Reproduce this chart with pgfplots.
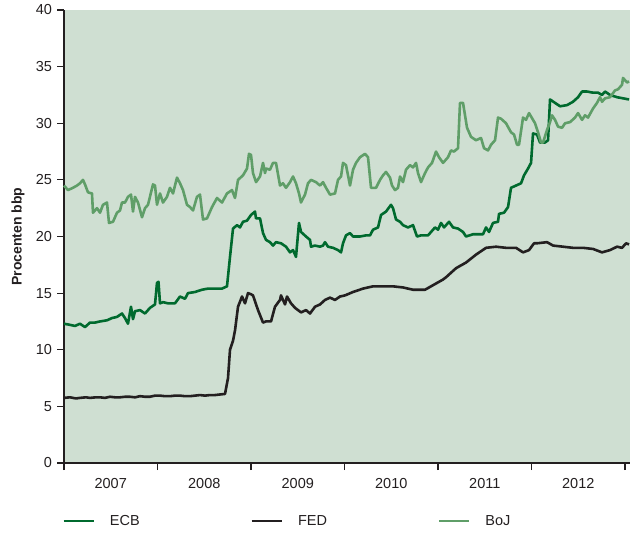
\documentclass[border=0pt]{standalone}
\usepackage{fontspec}
\setmainfont{Liberation Sans}
\usepackage{pgfplots}
\usepackage{pgfplotstable}
\pgfplotsset{compat=1.18}
\definecolor{bgc}{RGB}{207,223,210}
\definecolor{ecbc}{RGB}{0,106,46}
\definecolor{bojc}{RGB}{95,158,104}
\definecolor{fedc}{RGB}{35,31,32}
% x: horizontal position (pixel), y: percentage of GDP
\pgfplotstableread{
px v
64 5.75
70 5.8
76 5.7
80 5.75
86 5.8
90 5.75
96 5.8
100 5.8
105 5.75
110 5.85
115 5.8
120 5.8
125 5.85
130 5.85
135 5.8
140 5.9
145 5.85
150 5.85
155 5.95
160 5.95
165 5.9
170 5.9
175 5.95
180 5.95
185 5.9
190 5.9
195 5.95
200 6.0
205 5.95
210 6.0
215 6.0
220 6.05
225 6.1
228 7.5
230 10.0
233 10.8
235 11.7
238 13.8
242 14.7
245 14.1
248 15.0
251 14.9
253 14.8
258 13.5
263 12.4
266 12.5
271 12.5
275 13.8
280 14.4
281 14.8
285 14.0
287 14.7
291 14.1
295 13.7
301 13.3
306 13.5
310 13.2
315 13.8
320 14.0
325 14.4
330 14.6
335 14.4
340 14.7
345 14.8
353 15.1
363 15.4
373 15.6
383 15.6
393 15.6
403 15.5
413 15.3
425 15.3
433 15.7
443 16.2
446 16.4
456 17.2
466 17.7
476 18.4
486 19.0
496 19.1
506 19.0
516 19.0
523 18.6
529 18.8
534 19.4
537 19.4
547 19.5
553 19.2
563 19.1
573 19.0
583 19.0
593 18.9
602 18.6
610 18.8
617 19.1
622 19.0
626 19.4
629 19.3
}\fed
\pgfplotstableread{
px v
64 12.3
70 12.2
75 12.1
80 12.3
85 12.0
90 12.4
95 12.4
100 12.5
107 12.6
112 12.8
117 12.9
122 13.2
125 12.8
128 12.3
131 13.8
133 12.7
135 13.4
140 13.5
145 13.2
150 13.7
155 14.0
157 15.9
158.5 16.0
160 14.1
163 14.2
168 14.1
175 14.1
180 14.7
185 14.5
188 15.0
195 15.1
202 15.3
208 15.4
215 15.4
222 15.4
227 15.6
230 18.2
233 20.7
237 21.0
240 20.8
243 21.3
247 21.4
251 21.9
255 22.2
256 21.6
260 21.6
263 20.3
266 19.7
270 19.5
273 19.2
276 19.5
281 19.4
286 19.1
290 18.6
293 18.8
296 18.2
299 21.2
301 20.4
306 20.0
310 19.7
311 19.1
315 19.2
320 19.1
323 19.2
325 19.5
328 19.1
333 19.0
338 18.8
341 18.6
343 19.4
346 20.1
350 20.3
353 20.0
360 20.0
366 20.1
370 20.1
373 20.6
378 20.8
381 21.9
386 22.2
391 22.8
393 22.5
396 21.5
400 21.3
403 21.0
408 20.8
413 21.0
417 20.0
421 20.1
428 20.1
435 20.8
438 20.6
441 21.2
444 20.8
449 21.3
453 20.8
458 20.7
463 20.4
466 20.0
473 20.2
483 20.2
486 20.8
489 20.4
493 21.2
498 21.3
499 22.0
504 22.1
508 22.6
511 24.3
516 24.5
521 24.7
524 25.4
528 26.0
531 26.5
533 29.1
537 29.0
540 28.3
545 28.3
548 28.5
550 32.1
555 31.8
560 31.5
567 31.6
573 31.9
578 32.3
582 32.8
587 32.8
593 32.7
598 32.7
602 32.5
605 32.8
610 32.5
617 32.3
623 32.2
629 32.1
}\ecb
\pgfplotstableread{
px v
64 24.5
68 24.1
73 24.3
77 24.5
80 24.7
83 25.0
85 24.6
88 23.9
92 23.8
93 22.1
97 22.5
100 22.1
103 22.8
107 23.0
109 21.2
113 21.3
117 22.1
120 22.3
122 23.0
125 23.0
128 23.5
131 23.7
133 22.2
135 23.5
138 23.0
142 21.7
145 22.5
148 22.8
153 24.6
155 24.5
157 22.8
160 23.8
163 23.0
167 23.5
170 24.3
173 23.8
177 25.2
180 24.7
183 24.1
187 22.8
190 22.6
193 22.3
197 23.5
200 23.7
203 21.5
207 21.6
212 22.6
217 23.4
222 23.0
227 23.8
232 24.1
235 23.4
238 25.0
243 25.4
247 26.0
249 27.3
251 27.2
253 25.6
256 24.8
260 25.3
263 26.5
265 25.6
266 26.0
270 25.9
273 26.5
276 26.5
280 24.5
283 24.7
286 24.3
290 24.8
293 25.3
296 24.7
299 23.8
301 23.0
305 23.7
308 24.7
311 25.0
316 24.8
320 24.5
323 24.8
326 24.3
330 23.7
335 23.8
338 25.0
341 25.3
343 26.5
346 26.3
350 24.5
353 25.9
356 26.5
360 27.0
365 27.3
368 27.0
371 24.3
376 24.3
380 25.0
383 25.4
386 25.7
390 25.2
392 24.5
395 24.1
398 24.3
400 25.3
403 24.8
406 25.9
410 26.3
413 26.1
416 26.5
418 25.6
421 24.8
425 25.6
428 26.1
432 26.5
436 27.5
439 27.0
443 26.5
448 27.0
451 27.6
454 27.5
458 27.8
460 31.8
463 31.8
467 29.6
471 28.8
476 28.5
481 28.7
484 27.8
488 27.6
491 28.1
495 28.5
498 30.5
501 30.4
506 30.0
511 29.2
514 29.0
517 28.1
519 28.1
523 30.5
526 30.3
529 30.9
533 30.3
535 30.0
538 29.2
541 28.3
543 28.3
547 29.4
550 30.1
552 30.7
555 30.3
558 29.7
562 29.6
565 30.0
570 30.1
575 30.5
578 30.9
582 30.3
585 30.7
588 30.5
593 31.3
597 31.8
600 32.3
602 31.9
605 32.2
610 32.3
615 32.9
618 33.0
622 33.4
623 34.0
627 33.6
629 33.7
}\boj
\begin{document}
\begin{tikzpicture}
\begin{axis}[
  scale only axis, width=566pt, height=453pt,
  xmin=2007, xmax=2013.053, ymin=0, ymax=40,
  axis x line*=bottom, axis y line*=left,
  axis line style={draw=fedc, line width=1.3pt},
  axis background/.style={fill=bgc},
  tick align=outside,
  tick style={draw=fedc, line width=1.1pt},
  major tick length=7pt,
  ytick={0,5,...,40},
  yticklabel style={xshift=-1.5pt},
  xtick={2007,...,2013}, xticklabels={},
  extra x ticks={2007.5,2008.5,2009.5,2010.5,2011.5,2012.5},
  extra x tick labels={2007,2008,2009,2010,2011,2012},
  extra x tick style={major tick length=0pt, xticklabel style={yshift=-12pt}},
  /pgf/number format/assume math mode=true,
  ticklabel style={font=\fontsize{14.5}{17}\selectfont, text=fedc},
  ylabel={Procenten bbp},
  every axis y label/.style={at={(axis description cs:0,0.5)}, xshift=-46pt, anchor=center, rotate=90,
    font=\fontsize{14}{16}\selectfont\bfseries, text=fedc},
  legend columns=3,
  legend style={at={(axis description cs:0,0)}, anchor=north west, yshift=-52pt, xshift=-2pt,
    draw=none, fill=none, inner sep=0pt, font=\fontsize{14.5}{17}\selectfont, text=fedc,
    nodes={inner sep=0pt},
    /tikz/every odd column/.append style={column sep=15pt},
    /tikz/every even column/.append style={column sep=110.5pt}},
  legend image code/.code={\draw[#1, line width=2.8pt] (0pt,0pt) -- (30pt,0pt);},
  legend cell align=left,
  clip=false,
]
\addplot[ecbc, line width=2.6pt, line join=round] table[x expr={2007+(\thisrow{px}-64)/93.5}, y=v] {\ecb};
\addlegendentry{ECB}
\addplot[fedc, line width=2.6pt, line join=round] table[x expr={2007+(\thisrow{px}-64)/93.5}, y=v] {\fed};
\addlegendentry{FED}
\addplot[bojc, line width=2.6pt, line join=round] table[x expr={2007+(\thisrow{px}-64)/93.5}, y=v] {\boj};
\addlegendentry{BoJ}
\end{axis}
\pgfresetboundingbox
\path (-64pt,-78pt) rectangle (572pt,463pt);
\end{tikzpicture}
\end{document}
